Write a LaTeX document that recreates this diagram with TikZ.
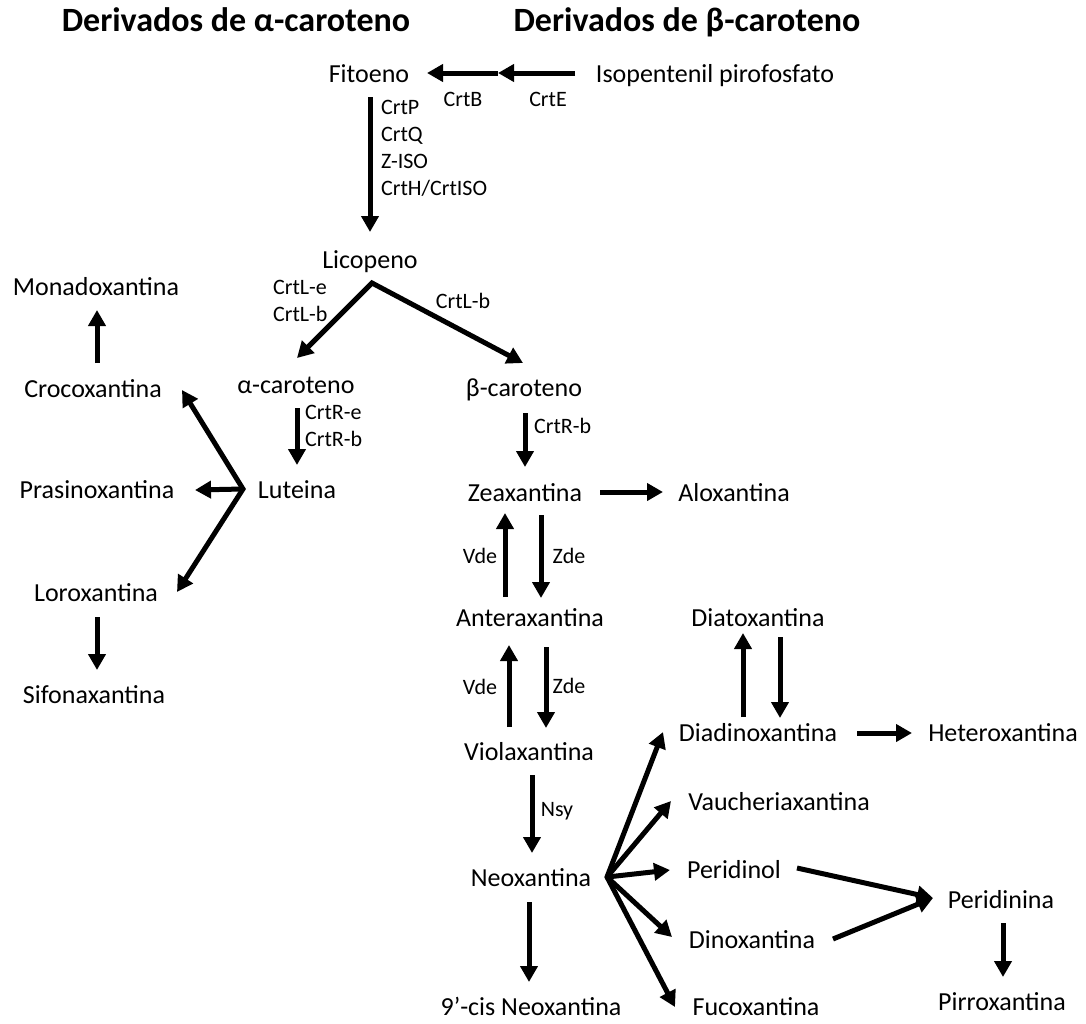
\documentclass[tikz,border=0pt]{standalone}
\usepackage{fontspec}
\setmainfont{Carlito}
\usetikzlibrary{arrows.meta,calc}
\begin{document}
\begin{tikzpicture}[x=1pt,y=-1pt,
 >={Triangle[length=16pt,width=17pt]},
 comp/.style={inner sep=0pt,text height=18pt,text depth=2pt,font=\fontsize{26}{30}\selectfont},
 enz/.style={inner sep=0pt,text height=15pt,text depth=2pt,font=\fontsize{22}{26}\selectfont},
 enzl/.style={enz,anchor=west},
 ttl/.style={inner sep=0pt,text height=24pt,text depth=3pt,font=\fontsize{34}{40}\selectfont\bfseries},
 arr/.style={line width=5pt,->},
 darr/.style={line width=5pt,<->,line join=miter}]
\useasboundingbox (0,0) rectangle (1086,1023);
% titles
\node[ttl] (ta) at (236,21) {Derivados de α-caroteno};
\node[ttl] (tb) at (687,21) {Derivados de β-caroteno};
% compounds
\node[comp] (fito) at (369,74) {Fitoeno};
\node[comp] (ipp) at (715,74) {Isopentenil pirofosfato};
\node[comp] (lico) at (370,260) {Licopeno};
\node[comp] (acar) at (296,385) {α-caroteno};
\node[comp] (bcar) at (524,388) {β-caroteno};
\node[comp] (lut) at (297,490) {Luteina};
\node[comp] (zea) at (525,493) {Zeaxantina};
\node[comp] (alo) at (734,493) {Aloxantina};
\node[comp] (mona) at (96,287) {Monadoxantina};
\node[comp] (croco) at (93,389) {Crocoxantina};
\node[comp] (prasino) at (97,490) {Prasinoxantina};
\node[comp] (loro) at (96,593) {Loroxantina};
\node[comp] (sifo) at (94,695) {Sifonaxantina};
\node[comp] (antera) at (530,618) {Anteraxantina};
\node[comp] (viola) at (529,752) {Violaxantina};
\node[comp] (neo) at (531,878) {Neoxantina};
\node[comp] (cis) at (531,1007) {9’-cis Neoxantina};
\node[comp] (diato) at (758,618) {Diatoxantina};
\node[comp] (diadino) at (758,733) {Diadinoxantina};
\node[comp] (hetero) at (1003,733) {Heteroxantina};
\node[comp] (vauch) at (779,802) {Vaucheriaxantina};
\node[comp] (peridinol) at (734,870) {Peridinol};
\node[comp] (peridinina) at (1001,900) {Peridinina};
\node[comp] (dinox) at (752,940) {Dinoxantina};
\node[comp] (fuco) at (756,1007) {Fucoxantina};
\node[comp] (pirro) at (1002,1002) {Pirroxantina};
% IPP -> Fitoeno
\coordinate (m1) at (498,73);
\draw[arr] ($(ipp)+(-140,-1)$) -- (m1);
\draw[arr] (m1) -- ($(fito)+(58,-1)$);
\node[enz] (crtb) at (463,100) {CrtB};
\node[enz] (crte) at (548,100) {CrtE};
% Fitoeno -> Licopeno
\draw[arr] ($(fito)+(1,23)$) -- ($(lico)+(0,-28)$);
\node[enzl] (crtp) at (381,108) {CrtP};
\node[enzl] (crtq) at (381,135) {CrtQ};
\node[enzl] (ziso) at (381,162) {Z-ISO};
\node[enzl] (crth) at (381,189) {CrtH/CrtISO};
% Licopeno -> carotenos
\coordinate (lapex) at (372,283);
\draw[darr] ($(acar)+(1,-27)$) -- (lapex) -- ($(bcar)+(-1,-25)$);
\node[enzl] (crtle) at (273,288) {CrtL-e};
\node[enzl] (crtlb1) at (273,315) {CrtL-b};
\node[enz] (crtlb2) at (463,302) {CrtL-b};
% alpha branch
\draw[arr] ($(acar)+(1,23)$) -- ($(lut)+(0,-25)$);
\node[enzl] (crtre) at (305,413) {CrtR-e};
\node[enzl] (crtrb1) at (305,440) {CrtR-b};
\coordinate (lo) at (243,489);
\draw[darr] ($(croco)+(89,1)$) -- (lo) -- ($(loro)+(81,-1)$);
\draw[arr] (lo) -- ($(prasino)+(98,0)$);
\draw[arr] ($(croco)+(4,-26)$) -- ($(mona)+(1,23)$);
\draw[arr] ($(loro)+(1,24)$) -- ($(sifo)+(3,-25)$);
% beta branch
\draw[arr] ($(bcar)+(1,25)$) -- ($(zea)+(0,-26)$);
\node[enzl] (crtrb2) at (534,427) {CrtR-b};
\draw[arr] ($(zea)+(75,-1)$) -- ($(alo)+(-71,-1)$);
\draw[arr] ($(antera)+(-25,-21)$) -- ($(zea)+(-20,20)$);
\draw[arr] ($(zea)+(16,22)$) -- ($(antera)+(11,-20)$);
\node[enz] (vde1) at (480,557) {Vde};
\node[enz] (zde1) at (569,557) {Zde};
\draw[arr] ($(viola)+(-20,-25)$) -- ($(antera)+(-21,27)$);
\draw[arr] ($(antera)+(16,29)$) -- ($(viola)+(17,-24)$);
\node[enz] (vde2) at (480,688) {Vde};
\node[enz] (zde2) at (569,687) {Zde};
\draw[arr] ($(viola)+(3,23)$) -- ($(neo)+(1,-25)$);
\node[enz] (nsy) at (557,810) {Nsy};
\draw[arr] ($(neo)+(-2,24)$) -- ($(cis)+(-2,-25)$);
% neoxantina fan
\coordinate (no) at (607,877);
\draw[darr] ($(diadino)+(-95,-1)$) -- (no) -- ($(fuco)+(-81,0)$);
\draw[arr] (no) -- ($(vauch)+(-108,-1)$);
\draw[arr] (no) -- ($(peridinol)+(-64,0)$);
\draw[arr] (no) -- ($(dinox)+(-80,-3)$);
% diadino / diato
\draw[arr] ($(diadino)+(-15,-16)$) -- ($(diato)+(-15,15)$);
\draw[arr] ($(diato)+(22,19)$) -- ($(diadino)+(22,-15)$);
\draw[arr] ($(diadino)+(99,0)$) -- ($(hetero)+(-91,0)$);
% peridinina
\draw[arr] ($(peridinol)+(63,-2)$) -- ($(peridinina)+(-68,-2)$);
\draw[arr] ($(dinox)+(81,-1)$) -- ($(peridinina)+(-68,-2)$);
\draw[arr] ($(peridinina)+(2,23)$) -- ($(pirro)+(1,-25)$);
\end{tikzpicture}
\end{document}
